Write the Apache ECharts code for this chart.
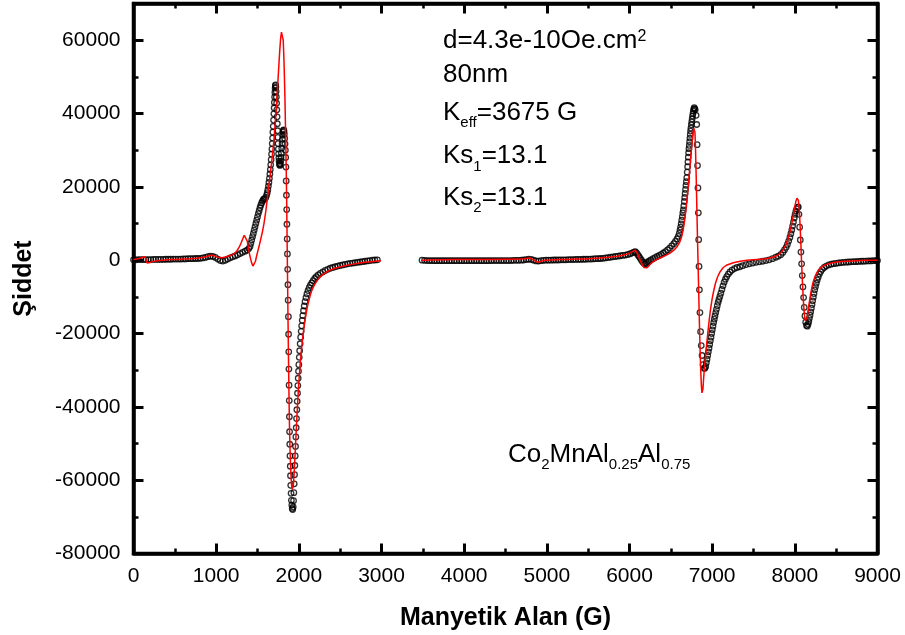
<!DOCTYPE html>
<html>
<head>
<meta charset="utf-8">
<script src="https://cdn.jsdelivr.net/npm/echarts@6/dist/echarts.min.js"></script>
<style>html,body{margin:0;padding:0;background:#fff}#c{width:905px;height:635px}</style>
</head>
<body>
<div id="c"></div>
<script>
// ---- data ----
const expLeft = [
[0,100],[30,100],[60,150],[90,150],[120,150],[150,150],[180,150],[210,150],[240,200],[270,200],[300,200],[330,200],[360,200],[390,250],[420,250],[450,250],[480,300],[510,300],[540,300],[570,300],[600,350],[630,350],[660,400],[690,400],[720,400],[750,450],[780,450],[810,500],[840,600],[870,750],[900,950],[930,1100],[960,1000],[990,750],[1020,300],[1050,-100],[1080,-250],[1110,-50],[1140,300],[1170,650],[1200,900],[1230,1150],[1260,1450],[1290,1800],[1320,2150],[1350,2450],[1375,2750],[1395,3150],
[1410,3700],[1420,4600],[1430,5500],[1440,6400],[1450,7300],[1460,8200],[1470,9100],[1480,10000],[1490,10900],[1500,11800],[1510,12700],[1520,13500],[1530,14300],[1540,15000],[1550,15600],[1560,16100],[1570,16500],[1580,16700],[1590,16800],[1600,17100],[1610,17700],
[1618,18400],[1625,19200],[1632,20200],[1638,21200],[1644,22300],[1650,23500],[1655,24700],[1660,26000],[1665,27400],[1670,28900],[1674,30300],[1678,31800],[1682,33300],[1686,34900],[1690,36500],[1694,38200],[1698,39900],[1701,41500],[1704,43000],[1707,44500],[1710,45800],[1713,46900],[1716,47600],[1719,47800],[1722,47200],[1725,46000],[1728,44500],[1731,42800],[1734,41000],[1737,39100],[1740,37200],[1743,35300],[1746,33500],[1749,31800],[1752,30300],[1755,29000],[1758,27900],[1761,27000],[1765,26300],[1769,25900],[1773,25900],[1777,26300],[1781,27000],[1785,28000],[1789,29200],[1793,30500],[1797,31800],[1801,33000],[1805,34100],[1809,34900],[1813,35400],[1817,35500],[1821,35200],[1825,34400],[1829,33200],[1833,31700],[1837,30000],[1841,28000],
[1844,25400],[1847,21600],[1850,17700],[1853,13800],[1856,9800],[1859,5800],[1862,1700],[1865,-2500],[1868,-6700],[1871,-10900],[1874,-15400],[1876,-20200],[1878,-25000],[1880,-29700],[1882,-34100],[1884,-38300],[1886,-42700],[1888,-46800],[1890,-50200],[1893,-53400],[1896,-56200],[1899,-58800],[1902,-61400],[1906,-63600],[1910,-65500],[1915,-66800],[1920,-67700],[1926,-68000],[1932,-67300],
[1936,-65600],[1940,-63400],[1944,-61000],[1948,-58500],[1952,-56000],[1956,-53400],[1960,-50800],[1964,-48200],[1968,-45700],[1972,-43200],[1976,-40800],[1980,-38500],[1984,-36300],[1988,-34200],[1992,-32200],[1996,-30300],[2000,-28500],[2005,-26500],[2010,-24700],[2016,-22800],[2022,-21000],[2028,-19400],[2034,-17900],[2041,-16400],[2048,-15100],[2056,-13800],[2065,-12500],[2075,-11300],[2086,-10200],[2098,-9200],[2111,-8300],[2125,-7500],[2140,-6800],[2156,-6200],[2173,-5600],[2192,-5000],[2212,-4500],[2235,-4000],[2260,-3600],[2290,-3200],[2320,-2800],[2350,-2500],[2380,-2200],[2410,-2000],[2440,-1800],[2470,-1600],[2500,-1450],[2530,-1300],[2560,-1150],[2590,-1000],[2620,-900],[2650,-800],[2680,-700],[2710,-600],[2740,-500],[2770,-400],[2800,-300],[2830,-200],[2860,-100],[2890,0],[2920,50],[2950,100]
];
const expRight = [
[3490,0],[3520,-50],[3550,-100],[3580,-100],[3610,-150],[3640,-150],[3670,-150],[3700,-150],[3730,-150],[3760,-150],[3790,-150],[3820,-150],[3850,-150],[3880,-150],[3910,-150],[3940,-150],[3970,-150],[4000,-150],[4030,-150],[4060,-150],[4090,-150],[4120,-150],[4150,-150],[4180,-150],[4210,-150],[4240,-150],[4270,-150],[4300,-150],[4330,-100],[4360,-100],[4390,-100],[4420,-100],[4450,-100],[4480,-100],[4510,-100],[4540,-100],[4570,-100],[4600,-50],[4630,-50],[4660,-50],[4690,0],[4720,50],[4750,150],[4780,250],[4810,200],[4840,0],[4870,-200],[4900,-250],[4930,-150],[4960,-50],[4990,0],[5020,0],[5050,0],[5080,50],[5110,50],[5140,50],[5170,100],[5200,100],[5230,100],[5260,150],[5290,150],[5320,150],[5350,200],[5380,200],[5410,200],[5440,250],[5470,250],[5500,300],[5530,300],[5560,350],[5590,400],[5620,400],[5650,450],[5680,500],[5710,600],[5740,700],[5770,800],[5800,900],[5830,1000],[5860,1100],[5890,1200],[5920,1300],[5950,1400],[5980,1550],[6010,1750],[6035,2000],[6055,2200],[6070,2300],[6085,2000],[6100,1500],[6115,1000],[6130,500],[6145,0],[6160,-500],[6175,-850],[6190,-1000],[6205,-850],[6220,-500],[6240,-200],[6260,100],[6285,400],[6310,700],[6335,1000],[6360,1300],[6385,1600],[6410,1950],[6435,2350],[6460,2800],[6485,3300],[6510,3900],[6535,4500],[6555,5100],[6575,5800],[6590,6500],[6602,7300],[6611,8200],
[6618,9000],[6625,9900],[6632,10900],[6639,11900],[6645,12900],[6651,13700],[6657,14800],[6663,16000],[6668,17100],[6673,18200],[6678,19300],[6683,20400],[6688,21400],[6693,22500],[6698,24000],[6703,25500],[6707,26800],[6711,28100],[6715,29300],[6719,30400],[6723,31300],[6727,32300],[6731,33300],[6735,34300],[6739,35200],[6743,36000],[6748,36900],[6753,37700],[6758,38500],[6763,39300],[6768,40000],[6773,40700],[6778,41200],[6783,41600],[6788,41300],
[6795,41000],[6806,39500],[6813,37000],[6818,31500],[6823,25800],[6828,19700],[6833,12900],[6837,5600],[6841,-1700],[6846,-8100],[6852,-14300],[6860,-19500],[6868,-23300],[6878,-26000],[6890,-28500],[6902,-29500],[6912,-29500],
[6922,-29000],[6930,-28000],[6938,-27000],[6946,-26000],[6954,-25000],[6962,-24000],[6970,-23000],[6978,-22000],[6986,-21000],[6994,-20000],[7002,-19000],[7010,-18000],[7018,-17000],[7026,-16100],[7034,-15200],[7043,-14300],[7052,-13400],[7062,-12400],[7072,-11500],[7082,-10700],[7093,-9900],[7105,-9000],[7118,-8000],[7131,-7000],[7145,-6000],[7160,-5200],[7176,-4500],[7195,-3800],[7215,-3200],[7240,-2700],[7270,-2300],[7300,-2000],[7336,-1800],[7370,-1500],[7410,-1200],[7450,-1000],[7490,-800],[7530,-600],[7570,-450],[7610,-300],[7650,-100],[7690,100],[7730,400],[7770,800],[7800,1100],[7830,1500],[7855,2100],[7875,2800],[7895,3500],[7910,4300],[7925,5200],[7940,6200],[7952,7200],[7963,8200],[7973,9300],[7983,10400],[7993,11500],[8003,12500],[8013,13400],[8023,14000],[8033,14400],[8042,14500],
[8050,12500],[8058,9000],[8066,5500],[8074,2200],[8082,-1000],[8090,-4200],[8098,-7300],[8106,-10200],[8114,-12900],[8122,-15200],[8131,-16900],[8141,-17800],[8151,-18000],[8160,-17500],
[8168,-16800],[8176,-15900],[8184,-15000],[8192,-14100],[8200,-13100],[8208,-12100],[8216,-11100],[8224,-10100],[8232,-9100],[8241,-8100],[8250,-7200],[8260,-6300],[8271,-5400],[8283,-4600],[8297,-3800],[8313,-3100],[8332,-2500],[8355,-2000],[8380,-1600],[8410,-1300],[8440,-1100],[8470,-950],[8500,-850],[8530,-750],[8560,-650],[8590,-600],[8620,-550],[8650,-500],[8680,-450],[8710,-400],[8740,-400],[8770,-350],[8800,-300],[8830,-300],[8860,-250],[8890,-200],[8920,-200],[8950,-150],[8980,-100],[9000,-100]
];
const fitLeft = [
[0,200],[40,300],[80,500],[110,800],[127,1200],[140,900],[152,0],[165,-800],[180,-850],[200,-650],[230,-400],[270,-250],[320,-100],[380,50],[450,150],[530,200],[610,300],[690,400],[760,550],[830,750],[880,950],[920,1250],[950,1350],[980,1200],[1010,900],[1040,700],[1070,650],[1110,850],[1150,1150],[1190,1450],[1220,1800],[1250,2500],[1280,3600],[1305,4900],[1325,6000],[1340,6800],[1352,7000],[1364,6500],[1376,5200],[1388,3600],[1400,2000],[1415,500],[1430,-800],[1445,-1600],[1460,-1400],[1475,-300],[1490,1200],[1510,3000],[1535,5300],[1560,7800],[1580,10200],[1600,13300],[1620,17000],[1640,20800],[1660,24500],[1680,28500],[1700,33000],[1715,37500],[1730,42500],[1745,48000],[1758,53000],[1770,57500],[1780,60500],[1790,62200],[1797,62700],[1804,62300],[1811,60000],[1818,56000],[1825,50500],[1832,44000],[1838,37000],[1843,31000],[1848,24000],[1853,16000],[1857,8000],[1861,0],[1865,-8000],[1869,-16000],[1873,-23500],[1878,-32000],[1883,-40000],[1888,-46500],[1894,-52000],[1900,-56000],[1907,-59500],[1914,-61700],[1920,-62600],[1925,-62700],[1930,-62200],[1936,-60800],[1942,-58600],[1948,-56000],[1955,-52800],[1962,-49500],[1970,-45800],[1978,-42200],[1986,-38800],[1995,-35300],[2005,-31800],[2015,-28700],[2025,-26000],[2035,-23700],[2046,-21400],[2058,-19200],[2071,-17000],[2085,-15000],[2100,-13100],[2118,-11300],[2138,-9600],[2160,-8100],[2185,-6900],[2212,-5900],[2245,-4900],[2285,-4000],[2330,-3300],[2380,-2700],[2440,-2200],[2505,-1800],[2570,-1450],[2640,-1150],[2720,-850],[2800,-600],[2880,-400],[2950,-250],[2995,-150]
];
const fitRight = [
[3490,0],[3600,50],[3750,100],[3900,150],[4050,150],[4200,200],[4350,200],[4500,250],[4600,250],[4680,300],[4730,400],[4770,550],[4795,600],[4815,450],[4840,100],[4865,-300],[4890,-550],[4915,-450],[4945,-200],[4980,-50],[5050,50],[5150,150],[5250,200],[5350,300],[5450,350],[5550,450],[5650,600],[5750,800],[5850,1050],[5920,1350],[5970,1650],[6010,2000],[6045,2450],[6070,2750],[6083,2500],[6098,1700],[6115,700],[6135,-400],[6155,-1300],[6175,-2000],[6195,-2300],[6212,-2100],[6235,-1500],[6265,-800],[6300,-200],[6340,300],[6390,800],[6440,1300],[6490,1900],[6540,2800],[6580,3800],[6610,5000],[6631,6400],[6651,8500],[6671,11500],[6690,15500],[6710,20000],[6730,25300],[6750,30500],[6765,34000],[6777,36000],[6785,36400],[6792,34800],[6799,30000],[6806,23500],[6813,16000],[6820,8500],[6827,1500],[6834,-5500],[6841,-12500],[6848,-19300],[6855,-25300],[6862,-30300],[6869,-34000],[6876,-36200],[6882,-36400],[6888,-35200],[6895,-32800],[6903,-30300],[6911,-28200],[6922,-25800],[6935,-22600],[6950,-19300],[6965,-16200],[6980,-13400],[7000,-10500],[7020,-8200],[7040,-6300],[7065,-4600],[7095,-3200],[7134,-2000],[7180,-1300],[7255,-700],[7340,-300],[7420,-50],[7500,100],[7580,250],[7650,400],[7710,650],[7760,1000],[7800,1450],[7835,2100],[7865,3000],[7890,4100],[7912,5400],[7932,7000],[7950,8600],[7966,10300],[7980,12100],[7993,13800],[8005,15200],[8016,16300],[8026,16900],[8035,17000],[8043,16300],[8051,14600],[8058,12000],[8065,8800],[8072,5000],[8079,900],[8086,-3000],[8094,-7000],[8102,-10500],[8110,-13300],[8118,-15300],[8126,-16500],[8134,-16900],[8142,-16600],[8150,-15600],[8160,-14000],[8172,-12000],[8186,-9900],[8202,-7900],[8220,-6100],[8240,-4700],[8262,-3600],[8290,-2600],[8320,-1900],[8360,-1350],[8410,-950],[8470,-650],[8540,-450],[8620,-300],[8700,-200],[8800,-100],[8900,-50],[9000,0]
];
const xRange = [0, 9000];
const yRange = [-80000, 70000];
const xTitle = 'Manyetik Alan (G)';
const yTitle = 'Şiddet';
const notes = [
  '{m|d=4.3e-10Oe.cm}{p|2}',
  '{m|80nm}',
  '{m|K}{b|eff}{m|=3675 G}',
  '{m|Ks}{b|1}{m|=13.1}',
  '{m|Ks}{b|2}{m|=13.1}'
];
const formula = '{m|Co}{b|2}{m|MnAl}{b|0.25}{m|Al}{b|0.75}';

// ---- chart ----
const FONT = '"Liberation Sans", Arial, sans-serif';
const chart = echarts.init(document.getElementById('c'), null, {renderer: 'canvas'});

function xAxisDef(pos, showLabel, extra) {
  return Object.assign({
    type: 'value', position: pos, min: xRange[0], max: xRange[1], interval: 1000,
    axisLine: {show: true, onZero: false, lineStyle: {color: '#000', width: 3.5}},
    axisTick: {show: true, inside: true, length: 10, lineStyle: {color: '#000', width: 3}},
    minorTick: {show: true, splitNumber: 2, length: 5, lineStyle: {color: '#000', width: 2.5}},
    axisLabel: {show: showLabel, color: '#000', fontSize: 21, fontFamily: FONT, margin: 12,
      formatter: v => String(v)},
    splitLine: {show: false}, minorSplitLine: {show: false}
  }, extra || {});
}
function yAxisDef(pos, interval, tickLen, showLine, showLabel, extra) {
  return Object.assign({
    type: 'value', position: pos, min: yRange[0], max: yRange[1], interval: interval,
    axisLine: {show: showLine, onZero: false, lineStyle: {color: '#000', width: 3.5}},
    axisTick: {show: true, inside: true, length: tickLen, lineStyle: {color: '#000', width: tickLen > 6 ? 3 : 2.5}},
    axisLabel: {show: showLabel, color: '#000', fontSize: 21, fontFamily: FONT, margin: 13,
      formatter: v => (v === yRange[1] ? '' : String(v))},
    splitLine: {show: false}
  }, extra || {});
}

const rich = {
  m: {fontSize: 26, lineHeight: 31, verticalAlign: 'top', fontFamily: FONT, fill: '#000', color: '#000'},
  p: {fontSize: 16, lineHeight: 16, verticalAlign: 'top', fontFamily: FONT, fill: '#000', color: '#000'},
  b: {fontSize: 15, lineHeight: 15, padding: [22, 0, 0, 0], verticalAlign: 'bottom', fontFamily: FONT, fill: '#000', color: '#000'}
};
const noteTops = [28.2, 61.5, 93.8, 137.2, 178.8];
const graphics = notes.map((t, i) => ({
  type: 'text', left: 443, top: noteTops[i], z: 100,
  style: {text: t, rich: rich, fill: '#000', font: '26px ' + FONT, align: 'left', verticalAlign: 'top'}
}));
graphics.push({
  type: 'text', left: 508, top: 435.5, z: 100,
  style: {text: formula, rich: rich, fill: '#000', font: '26px ' + FONT, align: 'left', verticalAlign: 'top'}
});

const option = {
  animation: false,
  backgroundColor: '#fff',
  grid: {left: 133.5, right: 27.5, top: 3.5, bottom: 81.5, containLabel: false, outerBoundsMode: 'none',
    show: true, borderColor: '#000', borderWidth: 3.5, backgroundColor: 'transparent'},
  xAxis: [
    xAxisDef('bottom', true, {name: xTitle, nameLocation: 'middle', nameGap: 52,
      nameTextStyle: {color: '#000', fontSize: 25, fontWeight: 'bold', fontFamily: FONT}}),
    xAxisDef('top', false)
  ],
  yAxis: [
    yAxisDef('left', 20000, 10, true, true, {name: yTitle, nameLocation: 'middle', nameGap: 97, nameRotate: 90,
      nameTextStyle: {color: '#000', fontSize: 25, fontWeight: 'bold', fontFamily: FONT}}),
    yAxisDef('right', 20000, 10, true, false),
    yAxisDef('left', 10000, 5, false, false),
    yAxisDef('right', 10000, 5, false, false)
  ],
  series: [
    {type: 'scatter', xAxisIndex: 0, yAxisIndex: 0, data: expLeft.concat(expRight),
      symbol: 'circle', symbolSize: 5.5, z: 2, large: false, progressive: 0,
      itemStyle: {color: 'rgba(0,0,0,0)', borderColor: '#000', borderWidth: 1.3}},
    {type: 'line', xAxisIndex: 0, yAxisIndex: 0, data: fitLeft, showSymbol: false, symbol: 'none', z: 3,
      lineStyle: {color: '#ff0000', width: 1.5}},
    {type: 'line', xAxisIndex: 0, yAxisIndex: 0, data: fitRight, showSymbol: false, symbol: 'none', z: 3,
      lineStyle: {color: '#ff0000', width: 1.5}}
  ],
  graphic: graphics
};
chart.setOption(option);
</script>
</body>
</html>
